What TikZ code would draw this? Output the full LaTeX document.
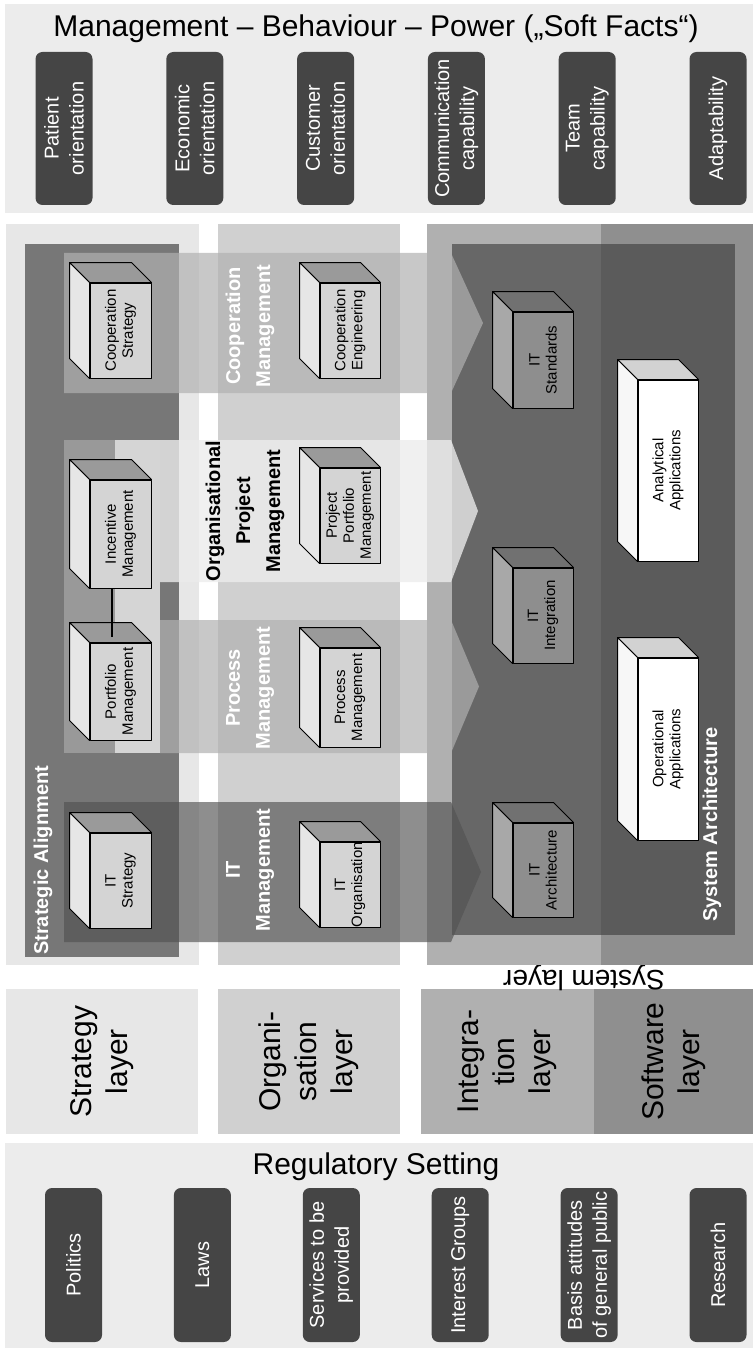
\documentclass[tikz,border=0pt]{standalone}
\usepackage{fontspec}
\setmainfont{Liberation Sans}
\definecolor{panel}{HTML}{ECECEC}
\definecolor{pillc}{HTML}{454545}
\definecolor{stratcol}{HTML}{E7E7E7}
\definecolor{orgcol}{HTML}{D0D0D0}
\definecolor{intcol}{HTML}{B0B0B0}
\definecolor{softcol}{HTML}{8F8F8F}
\definecolor{sadark}{HTML}{777777}
\definecolor{sysdarkA}{HTML}{676767}
\definecolor{sysdarkB}{HTML}{5B5B5B}
\definecolor{groupmid}{HTML}{999999}
\definecolor{grouplight}{HTML}{D5D5D5}
\definecolor{bandmid}{HTML}{B1B1B1}
\definecolor{banddark}{HTML}{525252}
\definecolor{bandlight}{HTML}{ECECEC}
\definecolor{litefront}{HTML}{D4D4D4}
\definecolor{litetop}{HTML}{9A9A9A}
\definecolor{liteside}{HTML}{E6E6E6}
\definecolor{itfront}{HTML}{8E8E8E}
\definecolor{ittop}{HTML}{717171}
\definecolor{itside}{HTML}{A8A8A8}
\definecolor{appfront}{HTML}{FFFFFF}
\definecolor{apptop}{HTML}{D2D2D2}
\definecolor{appside}{HTML}{F7F7F7}
\tikzset{
  pill/.style={rotate=90, fill=pillc, rounded corners=7pt, minimum width=153pt, minimum height=57pt, inner sep=0pt, text=white, align=center, font=\fontsize{20}{25}\selectfont},
  layerbox/.style={rotate=90, inner sep=0pt, align=center, font=\fontsize{30}{36}\selectfont},
  bandtext/.style={rotate=90, align=center, inner sep=0pt, font=\fontsize{20}{30}\selectfont\bfseries},
  cubetext/.style={rotate=90, align=center, inner sep=0pt, font=\fontsize{15}{17}\selectfont},
  cubeline/.style={draw=black, line width=1pt, line join=round},
  titletext/.style={inner sep=0pt, font=\fontsize{30}{36}\selectfont},
}
\newcommand\drawcube[7]{%
  \node[cubeline, fill=#6front, minimum width=#4pt, minimum height=#5pt, inner sep=0pt] (#1) at (#2,#3) {};
  \filldraw[cubeline, fill=#6top] (#1.north west) -- ++(-20,-20) -- ([shift={(-20,-20)}]#1.north east) -- (#1.north east) -- cycle;
  \filldraw[cubeline, fill=#6side] (#1.north west) -- ++(-20,-20) -- ([shift={(-20,-20)}]#1.south west) -- (#1.south west) -- cycle;
  \node[cubetext] (#1t) at (#1) {#7};
}
\begin{document}
\begin{tikzpicture}[x=1pt, y=-1pt]
\useasboundingbox (0,0) rectangle (753,1348);
\fill[white] (0,0) rectangle (753,1348);
% top panel
\fill[panel] (5,4) rectangle (753,213);
\node[titletext] (title) at (376,29) {Management – Behaviour – Power („Soft Facts“)};
\node[pill] (p1) at (64,128.5) {Patient\\orientation};
\node[pill] (p2) at (194.8,128.5) {Economic\\orientation};
\node[pill] (p3) at (325.6,128.5) {Customer\\orientation};
\node[pill] (p4) at (456.4,128.5) {Communication\\capability};
\node[pill] (p5) at (587.2,128.5) {Team\\capability};
\node[pill] (p6) at (718,128.5) {Adaptability};
% bottom panel
\fill[panel] (5,1143) rectangle (753,1348);
\node[titletext] (reg) at (376,1167) {Regulatory Setting};
\node[pill, minimum width=154pt] (r1) at (73.5,1265) {Politics};
\node[pill, minimum width=154pt] (r2) at (202.4,1265) {Laws};
\node[pill, minimum width=154pt] (r3) at (331.3,1265) {Services to be\\provided};
\node[pill, minimum width=154pt] (r4) at (460.2,1265) {Interest Groups};
\node[pill, minimum width=154pt] (r5) at (589.1,1265) {Basis attitudes\\of general public};
\node[pill, minimum width=154pt] (r6) at (718,1265) {Research};
% layer boxes
\node[layerbox, fill=stratcol, minimum width=145pt, minimum height=192pt] (ls) at (102,1061.5) {Strategy\\layer};
\node[layerbox, fill=orgcol, minimum width=145pt, minimum height=182pt] (lo) at (309,1061.5) {Organi-\\sation\\layer};
\node[layerbox, fill=intcol, minimum width=145pt, minimum height=173pt] (li) at (507.5,1061.5) {Integra-\\tion\\layer};
\node[layerbox, fill=softcol, minimum width=145pt, minimum height=159pt] (lw) at (673.5,1061.5) {Software\\layer};
\node[rotate=180, inner sep=0pt, font=\fontsize{28}{32}\selectfont] (syslayer) at (584,978) {System layer};
% columns
\fill[stratcol] (6,224) rectangle (199,965);
\fill[orgcol] (218,224) rectangle (400,965);
\fill[intcol] (427,224) rectangle (601,965);
\fill[softcol] (601,224) rectangle (753,965);
% dark areas
\fill[sadark] (25,244) rectangle (179,957);
\fill[sysdarkA] (452,244) rectangle (601,935);
\fill[sysdarkB] (601,244) rectangle (735,935);
% portfolio group
\fill[groupmid] (64,440) rectangle (115,753);
\fill[grouplight] (115,440) rectangle (160,753);
% bands
\fill[bandmid, opacity=0.7] (64,253) -- (451,253) -- (483,323) -- (451,393) -- (64,393) -- cycle;
\fill[bandlight, opacity=0.79] (160,440) -- (451,440) -- (478,511) -- (451,582) -- (160,582) -- cycle;
\fill[bandmid, opacity=0.7] (160,620) -- (451,620) -- (479,686.5) -- (451,753) -- (160,753) -- cycle;
\fill[banddark, opacity=0.65] (64,802) -- (451,802) -- (481,872) -- (451,942) -- (64,942) -- cycle;
% band labels
\node[bandtext, text=white] (coopm) at (250,326) {Cooperation\\Management};
\node[bandtext, text=black] (orgpm) at (245,511) {Organisational\\Project\\Management};
\node[bandtext, text=white] (procm) at (250,688) {Process\\Management};
\node[bandtext, text=white] (itm) at (250,870) {IT\\Management};
\node[bandtext, text=white, anchor=west] (sal) at (43,955) {Strategic Alignment};
\node[bandtext, text=white, anchor=west] (sysa) at (712,922) {System Architecture};
% cubes
\drawcube{cs}{120.5}{330.5}{61}{95}{lite}{Cooperation\\Strategy}
\drawcube{inc}{120.5}{534}{61}{108}{lite}{Incentive\\Management}
\drawcube{port}{120.5}{691.5}{61}{97}{lite}{Portfolio\\Management}
\drawcube{its}{120.5}{880.5}{61}{95}{lite}{IT\\Strategy}
\drawcube{ce}{350}{330.5}{60}{95}{lite}{Cooperation\\Engineering}
\drawcube{ppm}{350}{515.5}{60}{95}{lite}{Project\\Portfolio\\Management}
\drawcube{pm}{350}{697.5}{60}{99}{lite}{Process\\Management}
\drawcube{ito}{350}{884.5}{60}{85}{lite}{IT\\Organisation}
\drawcube{itst}{543}{360}{60}{96}{it}{IT\\Standards}
\drawcube{itin}{543}{615.5}{60}{95}{it}{IT\\Integration}
\drawcube{itar}{543}{870}{60}{94}{it}{IT\\Architecture}
\drawcube{ana}{668}{470.5}{60}{181}{app}{Analytical\\Applications}
\drawcube{ope}{668}{749}{60}{182}{app}{Operational\\Applications}
% connector
\draw[line width=1.3pt] ([xshift=-8.5pt]inc.south) -- ([xshift=-8.5pt,yshift=6pt]port.north);
\end{tikzpicture}
\end{document}
